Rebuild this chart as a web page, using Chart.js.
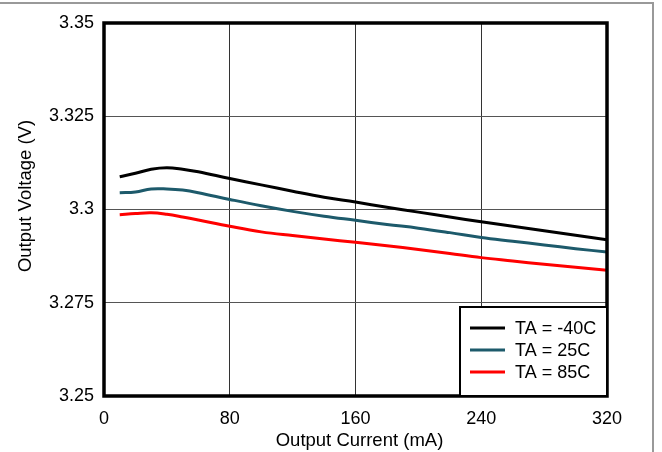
<!DOCTYPE html>
<html>
<head>
<meta charset="utf-8">
<script src="https://cdn.jsdelivr.net/npm/chart.js@4/dist/chart.umd.min.js"></script>
<style>
  html, body { margin: 0; padding: 0; background: #fff; }
  #wrap { position: relative; width: 662px; height: 452px; }
  #frame { position: absolute; left: 0; top: 2px; width: 654px; height: 450px;
           border-top: 2px solid #999; border-right: 2px solid #999; box-sizing: border-box; }
  canvas { position: absolute; left: 0; top: 0; }
</style>
</head>
<body>
<div id="wrap">
  <div id="frame"></div>
  <canvas id="chart" width="662" height="452"></canvas>
</div>
<script>
// Output current in mA
const currents = [10, 20, 30, 40, 50, 60, 80, 100, 120, 140, 160, 180, 200, 220, 240, 260, 280, 300, 320];

// Output voltage per temperature
const voltsMinus40 = [3.3088, 3.3097, 3.3108, 3.3112, 3.3108, 3.3101, 3.3083, 3.3066, 3.3049, 3.3033, 3.3020, 3.3006, 3.2993, 3.2980, 3.2967, 3.2955, 3.2943, 3.2931, 3.2919];
const volts25 = [3.3045, 3.3047, 3.3055, 3.3055, 3.3052, 3.3045, 3.3027, 3.3010, 3.2995, 3.2982, 3.2971, 3.2960, 3.2950, 3.2938, 3.2925, 3.2915, 3.2905, 3.2895, 3.2886];
const volts85 = [3.2986, 3.2989, 3.2991, 3.2987, 3.2980, 3.2972, 3.2955, 3.2940, 3.2930, 3.2921, 3.2912, 3.2903, 3.2893, 3.2882, 3.2871, 3.2862, 3.2853, 3.2845, 3.2837];

const seriesLabels = ['TA = -40C', 'TA = 25C', 'TA = 85C'];
const seriesColors = ['#000000', '#1d5a6b', '#ff0000'];

const xTicks = [0, 80, 160, 240, 320];
const yTicks = [3.25, 3.275, 3.3, 3.325, 3.35];
const yTickLabels = ['3.25', '3.275', '3.3', '3.325', '3.35'];

const xTitle = 'Output Current (mA)';
const yTitle = 'Output Voltage (V)';

const FONT = 'Liberation Sans, Arial, sans-serif';

function toPoints(ys) {
  return currents.map((x, i) => ({ x: x, y: ys[i] }));
}

// Axis titles, thick plot frame and the boxed legend in the lower right corner
const frameAndLegend = {
  id: 'frameAndLegend',
  afterDatasetsDraw(chart) {
    const { ctx, chartArea: a } = chart;
    ctx.save();
    ctx.strokeStyle = '#000';
    ctx.lineWidth = 3.5;
    ctx.strokeRect(a.left, a.top, a.right - a.left, a.bottom - a.top);

    // axis titles
    ctx.fillStyle = '#000';
    ctx.font = '18.5px ' + FONT;
    ctx.textAlign = 'center';
    ctx.textBaseline = 'middle';
    ctx.fillText(xTitle, (a.left + a.right) / 2 + 4, 441);
    ctx.save();
    ctx.translate(26, 196);
    ctx.rotate(-Math.PI / 2);
    ctx.fillText(yTitle, 0, 0);
    ctx.restore();

    // legend
    const boxW = 147, boxH = 89;
    const bx = a.right - boxW, by = a.bottom - boxH;
    ctx.fillStyle = '#fff';
    ctx.fillRect(bx, by, boxW, boxH);
    ctx.strokeStyle = '#000';
    ctx.lineWidth = 2;
    ctx.strokeRect(bx, by, boxW, boxH);

    ctx.font = '18px ' + FONT;
    ctx.textAlign = 'left';
    chart.data.datasets.forEach((ds, i) => {
      const y = by + 21 + i * 22;
      ctx.strokeStyle = ds.borderColor;
      ctx.lineWidth = 3;
      ctx.beginPath();
      ctx.moveTo(bx + 10, y);
      ctx.lineTo(bx + 45, y);
      ctx.stroke();
      ctx.fillStyle = '#000';
      ctx.fillText(ds.label, bx + 55, y + 1);
    });
    ctx.restore();
  }
};

const datasets = [voltsMinus40, volts25, volts85].map((ys, i) => ({
  label: seriesLabels[i],
  data: toPoints(ys),
  borderColor: seriesColors[i],
  backgroundColor: seriesColors[i],
  borderWidth: 3,
  pointRadius: 0,
  tension: 0.4,
  fill: false
}));

new Chart(document.getElementById('chart'), {
  type: 'line',
  data: { datasets: datasets },
  options: {
    responsive: false,
    animation: false,
    layout: { padding: { top: 23, right: 55, left: 0, bottom: 0 } },
    plugins: {
      legend: { display: false },
      tooltip: { enabled: false }
    },
    scales: {
      x: {
        type: 'linear',
        min: 0,
        max: 320,
        afterBuildTicks: axis => { axis.ticks = xTicks.map(v => ({ value: v })); },
        afterFit: axis => { axis.height = 56; },
        grid: { color: '#333', lineWidth: 1, drawTicks: false },
        border: { display: false },
        ticks: { color: '#000', font: { family: FONT, size: 18 }, padding: 12, maxRotation: 0 }
      },
      y: {
        min: 3.25,
        max: 3.35,
        afterBuildTicks: axis => { axis.ticks = yTicks.map(v => ({ value: v })); },
        afterFit: axis => { axis.width = 104; },
        grid: { color: '#555', lineWidth: 1, drawTicks: false },
        border: { display: false },
        ticks: {
          color: '#000',
          font: { family: FONT, size: 18 },
          padding: 10,
          callback: v => yTickLabels[yTicks.findIndex(t => Math.abs(t - v) < 1e-9)]
        }
      }
    }
  },
  plugins: [frameAndLegend]
});
</script>
</body>
</html>
